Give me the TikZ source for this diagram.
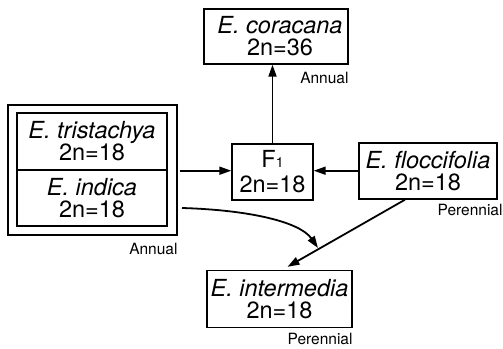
\documentclass[tikz,border=0pt]{standalone}
\usepackage{fontspec}
\setmainfont{TeX Gyre Heros}
\usetikzlibrary{arrows.meta}
\begin{document}
\begin{tikzpicture}[x=1pt,y=-1pt,
  box/.style={draw, line width=1.4pt, rectangle, inner sep=0pt, align=center,
    font=\fontsize{23.5}{22}\selectfont},
  lab/.style={font=\fontsize{15.5}{15.5}\selectfont, inner sep=0pt, anchor=east},
  arr/.style={line width=1.8pt, -{Triangle[length=12pt,width=8pt]}}]
\useasboundingbox (0,0) rectangle (503,348);

% species boxes
\node[box, minimum width=144, minimum height=55] (cor) at (276,36.5)
  {\hspace*{8pt}\textit{E. coracana}\\\hspace*{8pt}2n=36};
\node[box, minimum width=81, minimum height=56] (F1) at (272.5,172)
  {F{\fontsize{14}{14}\selectfont 1}\\[3pt]2n=18};
\node[box, minimum width=138, minimum height=56] (flo) at (428,171)
  {\textit{E. floccifolia}\\2n=18};
\node[box, minimum width=145, minimum height=57] (inter) at (279.5,299)
  {\textit{E. intermedia}\\2n=18};

% grouped annual parents
\node[draw, line width=1.4pt, minimum width=169, minimum height=130, inner sep=0pt]
  (lbox) at (92.5,170) {};
\node[box, minimum width=150, minimum height=57] (tri) at (92,141.5)
  {\textit{E. tristachya}\\2n=18};
\node[box, minimum width=150, minimum height=56] (ind) at (92,198)
  {\textit{E. indica}\\2n=18};

% life-history labels
\node[lab] (a1) at ([yshift=-13pt]cor.south east) {Annual};
\node[lab] (a2) at ([yshift=-13pt]lbox.south east) {Annual};
\node[lab] (p1) at ([shift={(5pt,-10pt)}]flo.south east) {Perennial};
\node[lab] (p2) at ([yshift=-11pt]inter.south east) {Perennial};

% crosses
\draw[arr] ([xshift=2pt]lbox.east |- tri.south) -- (F1.west |- tri.south);
\draw[arr] (flo.west |- tri.south) -- (F1.east |- tri.south);
\draw[arr] (F1.north) -- (F1.north |- cor.south);
\draw[arr] ([xshift=-23pt]flo.south) -- ([shift={(8pt,3pt)}]inter.north);
\coordinate (cs) at (182,208);
\coordinate (ce) at (318,248);
\draw[arr] (cs) .. controls (250,210) and (300,222) .. (ce);
\end{tikzpicture}
\end{document}
